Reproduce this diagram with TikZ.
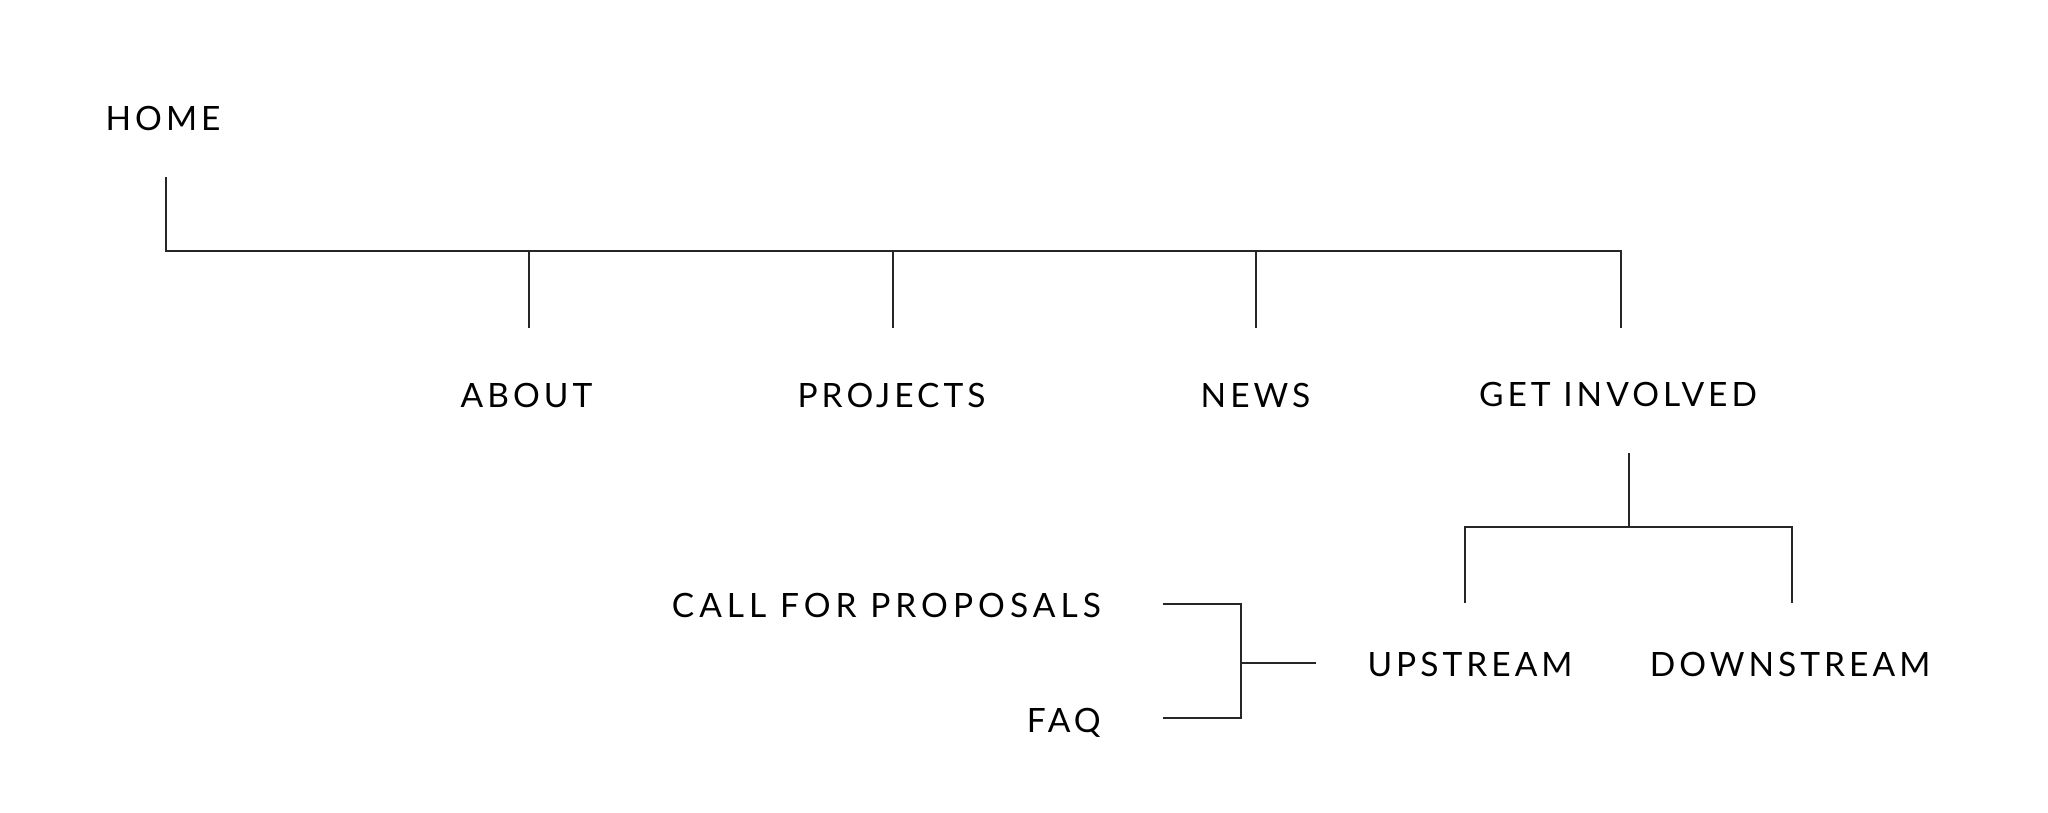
\documentclass[tikz,border=0pt]{standalone}
\usepackage{fontspec}
\setmainfont[LetterSpace=12]{Lato}
\begin{document}
\begin{tikzpicture}[x=1pt,y=-1pt,
  lbl/.style={inner sep=0pt,anchor=base,font=\fontsize{33.5}{40}\selectfont,text=black},
  lbr/.style={lbl,anchor=base east},
  conn/.style={draw=black!85,line width=1.6pt,line cap=butt,line join=miter}]
\useasboundingbox[fill=white] (0,0) rectangle (2048,813);
% labels
\node[lbl] (home) at (163,131) {HOME};
\node[lbl] (about) at (526.5,407) {ABOUT};
\node[lbl] (projects) at (891.5,407) {PROJECTS};
\node[lbl] (news) at (1255.5,407) {NEWS};
\node[lbl] (getinv) at (1618,406) {GET INVOLVED};
\node[lbl] (up) at (1470,676) {UPSTREAM};
\node[lbl] (down) at (1790,676) {DOWNSTREAM};
\node[lbr] (cfp) at (1101,617) {\addfontfeatures{LetterSpace=15}CALL FOR PROPOSALS};
\node[lbr] (faq) at (1101,732) {FAQ};
% connector points
\coordinate (h0) at (166,177);
\coordinate (h1) at (166,251);
\coordinate (bar1) at (1621,251);
\coordinate (a0) at (529,251);   \coordinate (a1) at (529,328);
\coordinate (p0) at (893,251);   \coordinate (p1) at (893,328);
\coordinate (n0) at (1256,251);  \coordinate (n1) at (1256,328);
\coordinate (g1) at (1621,328);
\coordinate (gi0) at (1629,453); \coordinate (gi1) at (1629,527);
\coordinate (bl) at (1465,527);  \coordinate (br) at (1792,527);
\coordinate (u1) at (1465,603);  \coordinate (d1) at (1792,603);
\coordinate (c0) at (1163,604);  \coordinate (c1) at (1241,604);
\coordinate (f0) at (1163,718);  \coordinate (f1) at (1241,718);
\coordinate (m0) at (1241,663);  \coordinate (m1) at (1316,663);
% connectors
\draw[conn] (h0) -- (h1) -- (bar1) -- (g1);
\draw[conn] (a0) -- (a1);
\draw[conn] (p0) -- (p1);
\draw[conn] (n0) -- (n1);
\draw[conn] (gi0) -- (gi1);
\draw[conn] (u1) -- (bl) -- (br) -- (d1);
\draw[conn] (c0) -- (c1) -- (f1) -- (f0);
\draw[conn] (m0) -- (m1);
\end{tikzpicture}
\end{document}
